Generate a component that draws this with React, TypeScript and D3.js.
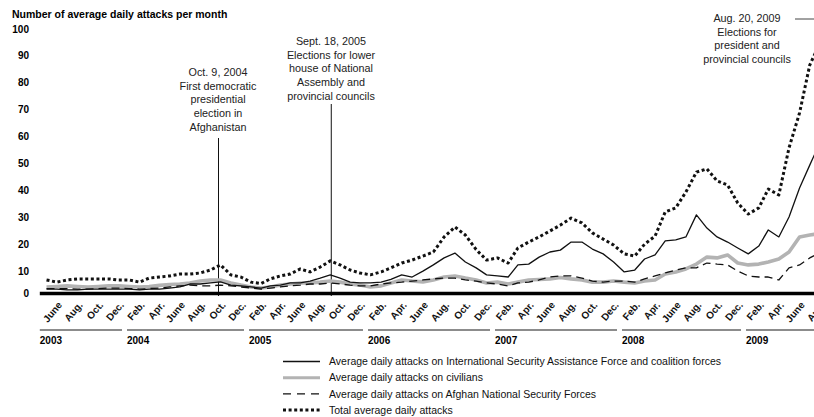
import {useEffect, useRef} from 'react';
import * as d3 from 'd3';

// data: monthly averages, May 2003 .. Aug 2009
const firstMonth = new Date(2003, 4, 1);
const lastMonth = new Date(2009, 7, 1);

const isafAttacks = [
  3.3, 3.3, 3.0, 3.0, 3.3, 3.3, 3.3, 3.3,
  3.3, 3.0, 3.3, 3.3, 3.7, 4.1, 5.2, 5.2, 5.6, 6.0, 4.8, 4.5,
  4.1, 3.7, 4.5, 4.8, 5.6, 5.6, 6.3, 7.4, 8.6, 7.4, 5.9, 5.6,
  5.6, 5.9, 6.9, 8.6, 7.8, 10.0, 12.3, 14.9, 16.7, 13.4, 11.2, 8.6,
  8.2, 7.8, 12.3, 12.6, 15.2, 17.1, 17.8, 20.8, 20.8, 18.2, 16.4, 13.4,
  9.7, 10.4, 14.5, 16.0, 21.2, 21.6, 22.7, 30.9, 26.0, 22.7, 20.8, 18.6,
  16.4, 19.3, 25.3, 22.7, 30.1, 40.9, 49.4, 58.0
];

const civilianAttacks = [
  4.1, 4.3, 4.5, 4.3, 4.1, 4.3, 4.5, 4.5,
  4.3, 4.1, 4.3, 4.7, 5.0, 5.2, 5.6, 6.3, 6.7, 6.7, 5.6, 4.8,
  4.1, 3.7, 4.1, 4.8, 5.2, 5.6, 5.6, 5.9, 6.3, 5.9, 5.2, 4.8,
  4.1, 4.5, 5.6, 6.7, 6.3, 6.0, 6.7, 7.8, 8.2, 7.4, 6.7, 5.6,
  5.9, 5.2, 5.9, 6.7, 6.9, 7.1, 7.6, 7.1, 6.7, 5.9, 5.9, 6.3,
  5.9, 5.6, 6.3, 6.7, 8.9, 9.7, 10.8, 12.6, 15.2, 14.9, 16.0, 13.0,
  12.3, 12.6, 13.4, 14.5, 17.1, 22.7, 23.4, 24.0
];

const ansfAttacks = [
  3.5, 3.5, 3.5, 3.3, 3.3, 3.5, 3.7, 3.7,
  3.5, 3.3, 3.5, 3.7, 4.1, 4.5, 4.8, 4.5, 4.5, 4.8, 4.5, 4.1,
  3.7, 3.3, 3.7, 4.1, 4.5, 4.8, 5.2, 5.2, 5.6, 5.2, 4.8, 4.5,
  4.5, 5.2, 5.6, 5.9, 6.3, 6.7, 7.1, 7.4, 7.4, 6.7, 6.3, 5.6,
  5.2, 4.5, 5.6, 5.9, 6.7, 7.8, 8.2, 8.2, 7.4, 6.3, 5.9, 6.3,
  6.3, 5.9, 7.1, 8.2, 9.3, 10.4, 11.2, 11.2, 13.0, 12.6, 12.3, 10.0,
  8.2, 7.8, 7.8, 6.7, 11.2, 12.3, 14.9, 17.0
];

const totalAttacks = [
  6.7, 5.9, 6.7, 7.1, 7.1, 7.1, 7.1, 6.7,
  6.7, 5.9, 7.4, 7.8, 8.2, 8.9, 8.9, 9.3, 10.4, 12.3, 8.6, 7.8,
  5.9, 5.4, 7.1, 8.2, 8.9, 10.8, 9.7, 11.5, 13.8, 12.3, 10.4, 9.3,
  8.6, 9.7, 11.2, 13.0, 14.1, 15.6, 17.1, 22.7, 26.4, 23.4, 18.0, 14.1,
  14.9, 13.0, 18.6, 20.8, 22.7, 24.9, 27.1, 29.7, 27.9, 24.2, 21.9, 19.7,
  16.4, 15.6, 20.0, 23.0, 32.0, 33.5, 39.4, 46.8, 48.0, 43.5, 42.0, 35.3,
  31.2, 33.5, 40.5, 38.3, 55.8, 68.8, 86.6, 95.0
];

const yTicks = [0, 10, 20, 30, 40, 50, 60, 70, 80, 90, 100];
const years = [2003, 2004, 2005, 2006, 2007, 2008, 2009];
const monthNames: { [m: number]: string } = {1: 'Feb.', 3: 'Apr.', 5: 'June', 7: 'Aug.', 9: 'Oct.', 11: 'Dec.'};

const events = [
  {date: new Date(2004, 9, 9), lines: ['Oct. 9, 2004', 'First democratic', 'presidential', 'election in', 'Afghanistan']},
  {date: new Date(2005, 8, 18), lines: ['Sept. 18, 2005', 'Elections for lower', 'house of National', 'Assembly and', 'provincial councils']},
  {date: new Date(2009, 7, 20), lines: ['Aug. 20, 2009', 'Elections for', 'president and', 'provincial councils']}
];

const legendLabels = [
  'Average daily attacks on International Security Assistance Force and coalition forces',
  'Average daily attacks on civilians',
  'Average daily attacks on Afghan National Security Forces',
  'Total average daily attacks'
];

// layout
const width = 814;
const height = 417;
const font = '"Liberation Sans", Arial, Helvetica, sans-serif';
// the printed x-axis is not quite uniform, so map each year boundary
const yearEdgesPx = [1.3, 124.5, 246.5, 365.5, 492.5, 619.5, 743.5, 867.5];
const baselineY = 293.5;
const eventTextTop = [72, 41, 18];
const eventLineTop = [138, 104, 19];
const eventTextX = [218, 331, 747];

const styles = [
  {stroke: '#111', width: 1.3, dash: null},
  {stroke: '#b3b3b3', width: 3.6, dash: null},
  {stroke: '#111', width: 1.3, dash: '8,5'},
  {stroke: '#111', width: 3, dash: '3,2.6'}
];

export default function App() {
  const ref = useRef<SVGSVGElement>(null);
  useEffect(() => {
    if (!ref.current) return;
    document.body.style.margin = '0';
    const svg = d3.select(ref.current);
    svg.selectAll('*').remove();

    const x = d3.scaleTime()
      .domain(yearEdgesPx.map((_, i) => new Date(2003 + i, 0, 1)))
      .range(yearEdgesPx);
    const y = d3.scaleLinear().domain([0, 100]).range([298, 29]);

    const months = d3.timeMonth.range(firstMonth, d3.timeMonth.offset(lastMonth, 1));
    const mid = (d: Date) => new Date(d.getFullYear(), d.getMonth(), 15);

    // title
    svg.append('text')
      .attr('x', 12).attr('y', 17.5)
      .attr('font-family', font).attr('font-size', 10.5).attr('font-weight', 'bold')
      .text('Number of average daily attacks per month');

    // y tick labels
    svg.append('g').selectAll('text')
      .data(yTicks)
      .enter().append('text')
      .attr('x', 29)
      .attr('y', d => d === 0 ? baselineY : y(d))
      .attr('dy', '0.35em')
      .attr('text-anchor', 'end')
      .attr('font-family', font).attr('font-size', 10).attr('font-weight', 'bold')
      .text(d => d);

    // event lines
    events.forEach((e, i) => {
      const ex = x(e.date);
      svg.append('line')
        .attr('x1', ex).attr('x2', ex)
        .attr('y1', eventLineTop[i]).attr('y2', 296)
        .attr('stroke', '#111').attr('stroke-width', 1);
      const t = svg.append('text')
        .attr('font-family', font).attr('font-size', 10.8).attr('fill', '#222')
        .attr('text-anchor', 'middle');
      e.lines.forEach((l, j) => {
        t.append('tspan')
          .attr('x', eventTextX[i])
          .attr('y', eventTextTop[i] + j * 13.8)
          .attr('dy', '0.35em')
          .text(l);
      });
    });
    // connector for the 2009 election note
    svg.append('line')
      .attr('x1', 795).attr('x2', x(events[2].date))
      .attr('y1', 19).attr('y2', 19)
      .attr('stroke', '#444').attr('stroke-width', 1);

    // series
    const series = [isafAttacks, civilianAttacks, ansfAttacks, totalAttacks];
    const line = d3.line<number>()
      .x((_, i) => x(mid(months[i])))
      .y(d => y(d));
    const order = [1, 2, 0, 3];
    order.forEach(k => {
      const s = styles[k];
      svg.append('path')
        .attr('d', line(series[k]))
        .attr('fill', 'none')
        .attr('stroke', s.stroke)
        .attr('stroke-width', s.width)
        .attr('stroke-dasharray', s.dash)
        .attr('stroke-linejoin', 'round');
    });

    // baseline
    svg.append('line')
      .attr('x1', x(firstMonth) - 2).attr('x2', width)
      .attr('y1', baselineY).attr('y2', baselineY)
      .attr('stroke', '#000').attr('stroke-width', 3.5);

    // month labels
    const labelMonths = months.filter(m => monthNames[m.getMonth()] !== undefined);
    svg.append('g').selectAll('text')
      .data(labelMonths)
      .enter().append('text')
      .attr('transform', d => `translate(${x(mid(d)) + 3},${303}) rotate(-50)`)
      .attr('dy', '0.35em')
      .attr('text-anchor', 'end')
      .attr('font-family', font).attr('font-size', 10).attr('font-weight', 'bold')
      .attr('fill', '#111')
      .text(d => monthNames[d.getMonth()]);

    // year segments
    years.forEach(yr => {
      const start = Math.max(x(new Date(yr, 0, 1)) + 2.5, x(firstMonth) - 2);
      const end = x(new Date(yr + 1, 0, 1)) - 2.5;
      svg.append('line')
        .attr('x1', start).attr('x2', end)
        .attr('y1', 330).attr('y2', 330)
        .attr('stroke', '#666').attr('stroke-width', 1.4);
      svg.append('text')
        .attr('x', start).attr('y', 344)
        .attr('font-family', font).attr('font-size', 10).attr('font-weight', 'bold')
        .text(yr);
    });

    // legend
    const legendOrder = [0, 1, 2, 3];
    legendOrder.forEach((k, i) => {
      const ly = 361.5 + i * 16.2;
      const s = styles[k];
      svg.append('line')
        .attr('x1', 283).attr('x2', 320)
        .attr('y1', ly).attr('y2', ly)
        .attr('stroke', s.stroke)
        .attr('stroke-width', k === 1 ? 3 : s.width)
        .attr('stroke-dasharray', k === 2 ? '8,6' : s.dash);
      svg.append('text')
        .attr('x', 329).attr('y', ly)
        .attr('dy', '0.35em')
        .attr('font-family', font).attr('font-size', 10.5).attr('fill', '#111')
        .text(legendLabels[k]);
    });
  }, [ref]);
  return <svg ref={ref} width={width} height={height} style={{display: 'block', background: '#fff'}}/>;
}
